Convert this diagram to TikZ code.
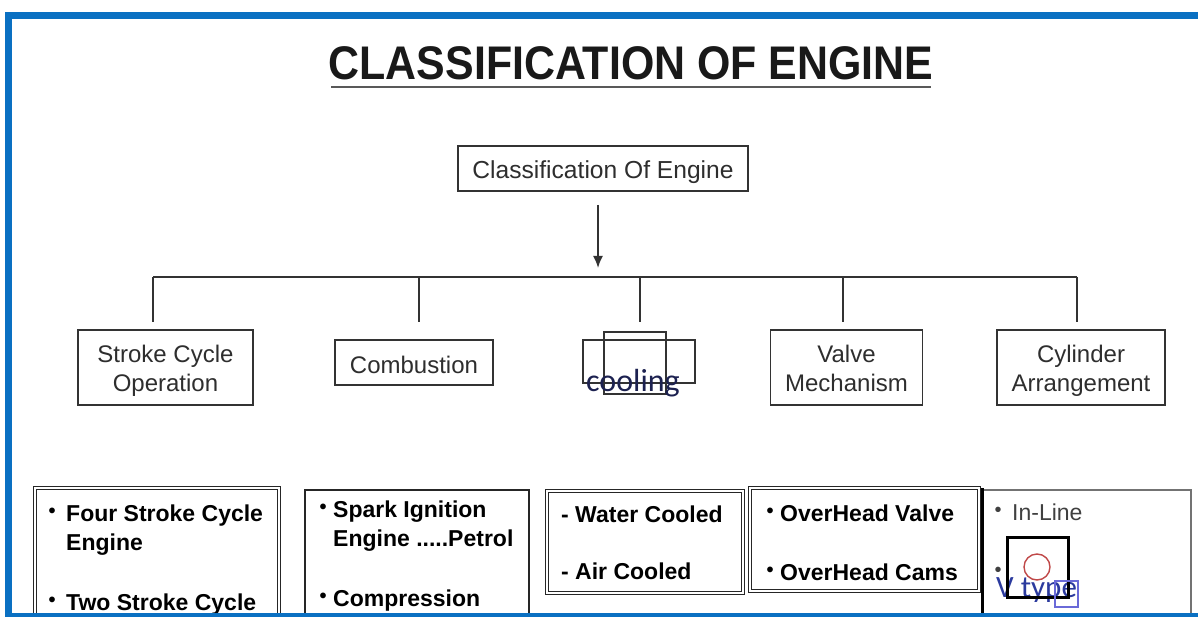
\documentclass[tikz,border=0pt]{standalone}
\usepackage{fontspec}
\setmainfont{Liberation Sans}
\newfontfamily\calib{Carlito}
\usepackage{graphicx}
\usetikzlibrary{arrows.meta}
\definecolor{frameblue}{HTML}{0A70C2}
\definecolor{boxgray}{HTML}{333333}
\definecolor{txtgray}{HTML}{2E2E2E}
\definecolor{vblue}{HTML}{2B3A9E}
\definecolor{coolc}{HTML}{1C2150}
\definecolor{circred}{HTML}{C04848}
\definecolor{sqblue}{HTML}{6A6AD8}
\newcommand\myfs[2]{\fontsize{#1}{#2}\selectfont}
\newcommand\bul[1]{\raisebox{4pt}{\myfs{20}{20}\textbullet}\hspace{#1}}
\newcommand\twoline[2]{\raisebox{0pt}[20pt][31pt]{\begin{tabular}[t]{@{}c@{}}#1\\#2\end{tabular}}}
\begin{document}
\begin{tikzpicture}[x=1pt,y=-1pt,
  lvl/.style={draw=boxgray,line width=1.8pt,text=txtgray,font=\myfs{24}{29},align=center,inner sep=0pt},
  one/.style={text height=24pt,text depth=3pt},
  conn/.style={draw=boxgray,line width=1.8pt},
  btxt/.style={anchor=base west,inner sep=0pt,font=\bfseries\myfs{23}{28},text=black},
  dbl/.style={draw=black!85,line width=0.9pt,double=white,double distance=1.4pt,inner sep=0pt},
  sgl/.style={draw=black!85,line width=2pt,inner sep=0pt},
]
\useasboundingbox (0,0) rectangle (1198,617);
\fill[white] (0,0) rectangle (1198,617);

% title
\node[anchor=base,inner sep=0pt,font=\bfseries\myfs{42.9}{50},text=black!90] (title) at (631,80) {\scalebox{1}[1.1]{CLASSIFICATION OF ENGINE}};
\coordinate (ul1) at (331,87);
\coordinate (ul2) at (931,87);
\draw[line width=2.6pt,draw=black!65] (ul1) -- (ul2);

% root
\node[lvl,one,font=\myfs{24.6}{29},minimum width=290pt,minimum height=45pt] (root) at (603,168.5) {Classification Of Engine};
\coordinate (as) at (598,205);
\coordinate (ae) at (598,268);
\draw[conn,-{Latex[length=12pt,width=10pt]}] (as) -- (ae);

% bus
\coordinate (j1) at (153,277);
\coordinate (j2) at (419,277);
\coordinate (j3) at (640,277);
\coordinate (j4) at (843,277);
\coordinate (j5) at (1077,277);
\coordinate (d1) at (153,322);
\coordinate (d2) at (419,322);
\coordinate (d3) at (640,322);
\coordinate (d4) at (843,322);
\coordinate (d5) at (1077,322);
\draw[conn] (j1) -- (j5);
\draw[conn] (j1) -- (d1);
\draw[conn] (j2) -- (d2);
\draw[conn] (j3) -- (d3);
\draw[conn] (j4) -- (d4);
\draw[conn] (j5) -- (d5);

% level 2
\node[lvl,minimum width=175pt,minimum height=75pt] (sco) at (165.5,367.5) {\twoline{Stroke Cycle}{Operation}};
\node[lvl,one,minimum width=158pt,minimum height=45pt] (comb) at (414,362.5) {Combustion};
\draw[boxgray,line width=1.8pt] (583,340) rectangle (695,383);
\draw[boxgray,line width=1.8pt] (604,332) rectangle (666,394);
\node[anchor=base west,inner sep=0pt,font=\calib\myfs{32}{36},text=coolc] (cool) at (586,391) {cooling};
\node[lvl,minimum width=152pt,minimum height=75pt] (valve) at (846.5,367.5) {\twoline{Valve}{Mechanism}};
\node[lvl,minimum width=168pt,minimum height=75pt] (cyl) at (1081,367.5) {\twoline{Cylinder}{Arrangement}};

% level 3 boxes
\node[dbl,minimum width=244pt,minimum height=162pt] (b1) at (157,569) {};
\node[sgl,minimum width=224pt,minimum height=160pt] (b2) at (417,570) {};
\node[dbl,minimum width=196pt,minimum height=102pt] (b3) at (645,542) {};
\node[dbl,minimum width=229pt,minimum height=103pt] (b4) at (864.5,539.5) {};
\node[draw=black!55,line width=1.4pt,inner sep=0pt,minimum width=209pt,minimum height=160pt] (b5) at (1086.5,570) {};
\coordinate (b5t) at (982,488);
\coordinate (b5b) at (982,630);
\draw[line width=3pt,black] (b5t) -- (b5b);

% level 3 texts
\node[btxt] (t11) at (48.5,521) {\bul{10.5pt}Four Stroke Cycle};
\node[btxt] (t12) at (66,550) {Engine};
\node[btxt] (t13) at (48.5,610) {\bul{10.5pt}Two Stroke Cycle};
\node[btxt] (t21) at (319.5,517) {\bul{6.5pt}Spark Ignition};
\node[btxt] (t22) at (333,546) {Engine .....Petrol};
\node[btxt] (t23) at (319.5,606) {\bul{6.5pt}Compression};
\node[btxt] (t31) at (561,522) {- Water Cooled};
\node[btxt] (t32) at (561,579) {- Air Cooled};
\node[btxt] (t41) at (766.5,521) {\bul{6.5pt}OverHead Valve};
\node[btxt] (t42) at (766.5,580) {\bul{6.5pt}OverHead Cams};
\node[anchor=base west,inner sep=0pt,font=\myfs{23}{28},text=black!75] (t51) at (994.5,520) {\bul{10.5pt}In-Line};
\node[anchor=base west,inner sep=0pt,font=\myfs{23}{28},text=black!75] (t52) at (994.5,580) {\bul{0pt}};
\node[anchor=base west,inner sep=0pt,font=\calib\myfs{31}{36},text=vblue] (t53) at (996,597) {V type};
\draw[line width=3pt,black] (1007,537) rectangle (1068,597);
\draw[line width=1.4pt,circred] (1037,567) circle (13);
\draw[line width=1.4pt,sqblue] (1055,581) rectangle (1078,607);

% frame
\fill[frameblue] (5,12) rectangle (1198,19);
\fill[frameblue] (5,12) rectangle (12,617);
\fill[frameblue] (5,613) rectangle (1198,617);
\end{tikzpicture}
\end{document}
